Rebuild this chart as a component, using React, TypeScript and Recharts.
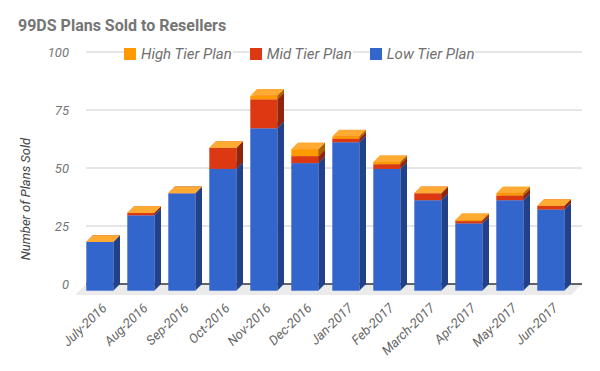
import React from 'react';
import { BarChart, Bar, XAxis, YAxis, CartesianGrid } from 'recharts';

const months = [
  'July-2016', 'Aug-2016', 'Sep-2016', 'Oct-2016', 'Nov-2016', 'Dec-2016',
  'Jan-2017', 'Feb-2017', 'March-2017', 'Apr-2017', 'May-2017', 'Jun-2017',
];
const lowTier = [21, 32.5, 42, 52.5, 70, 55, 64, 52.5, 39, 29, 39, 35];
const midTier = [0, 1, 0, 9, 12.5, 3, 1.5, 2, 3, 1, 2, 1.5];
const highTier = [0, 0, 0, 0, 1.5, 3, 1, 1, 0, 0.5, 1, 0];
const yTicks = [0, 25, 50, 75, 100];

const data = months.map((month, i) => ({
  month,
  low: lowTier[i],
  mid: midTier[i],
  high: highTier[i],
}));

const W = 600;
const H = 371;
const TOP = 52;
const BOTTOM = 284;
const XAXIS_H = 30;
const DEPTH = 6.7;
const FLOOR = 11;
const font = 'Roboto, sans-serif';

// series, drawn bottom to top; legend shows them reversed
const series = [
  { key: 'low', name: 'Low Tier Plan', front: '#3366cc', side: '#21428a', top: '#5c85d6' },
  { key: 'mid', name: 'Mid Tier Plan', front: '#dc3912', side: '#8f250c', top: '#e3613f' },
  { key: 'high', name: 'High Tier Plan', front: '#ff9900', side: '#a66300', top: '#ffab33' },
];

// fake 3d box: recharts gives the back plane, front face is pushed down-left
const makeBox = (front: string, side: string, top: string) => (props: any) => {
  const { x, y, width, height } = props;
  if (x == null || y == null) return null;
  const h = Math.max(height || 0, 0);
  const fx = x - DEPTH;
  const fy = y + DEPTH;
  return (
    <g>
      <polygon
        points={`${fx + width},${fy} ${x + width},${y} ${x + width},${y + h} ${fx + width},${fy + h}`}
        fill={side}
      />
      <polygon points={`${fx},${fy} ${fx + width},${fy} ${x + width},${y} ${x},${y}`} fill={top} />
      <rect x={fx} y={fy} width={width} height={h} fill={front} />
    </g>
  );
};

const gridLine = (p: any) => {
  const { x1, x2, y1, key } = p;
  const right = x2 + 4;
  if (Math.abs(y1 - BOTTOM) < 1) {
    return (
      <g key={key}>
        <polygon
          points={`${x1},${y1} ${right},${y1} ${right - FLOOR},${y1 + FLOOR} ${x1 - FLOOR},${y1 + FLOOR}`}
          fill="#ebebeb"
        />
        <line x1={x1} x2={right} y1={y1} y2={y1} stroke="#333" strokeWidth={1.5} />
      </g>
    );
  }
  return <line key={key} x1={x1} x2={right} y1={y1} y2={y1} stroke="#cccccc" strokeWidth={1} />;
};

const MonthTick = (props: any) => {
  const { x, payload } = props;
  const ax = x + 1;
  const ay = BOTTOM + 25;
  return (
    <text
      x={ax}
      y={ay}
      transform={`rotate(-44, ${ax}, ${ay})`}
      textAnchor="end"
      fontSize={13}
      fontStyle="italic"
      fill="#666"
      fontFamily={font}
    >
      {payload.value}
    </text>
  );
};

const YLabel = () => {
  const cx = 30;
  const cy = 199;
  return (
    <text
      x={cx}
      y={cy}
      transform={`rotate(-90, ${cx}, ${cy})`}
      textAnchor="middle"
      fontSize={13}
      fontStyle="italic"
      fill="#444"
      fontFamily={font}
    >
      Number of Plans Sold
    </text>
  );
};

export default function App() {
  return (
    <div style={{ position: 'absolute', left: 0, top: 0, width: W, height: H, background: '#fff', fontFamily: font }}>
      <div
        style={{
          position: 'absolute', left: 18, top: 16, fontSize: 16, fontWeight: 700,
          color: '#757575', lineHeight: 'normal', whiteSpace: 'nowrap',
        }}
      >
        99DS Plans Sold to Resellers
      </div>

      <BarChart
        width={W}
        height={H}
        data={data}
        margin={{ top: TOP, right: 22, bottom: H - BOTTOM - XAXIS_H, left: 0 }}
        barSize={27}
      >
        <CartesianGrid vertical={false} horizontal={gridLine} />
        <XAxis
          dataKey="month"
          axisLine={false}
          tickLine={false}
          interval={0}
          height={XAXIS_H}
          tick={<MonthTick />}
        />
        <YAxis
          width={86}
          domain={[0, 100]}
          ticks={yTicks}
          axisLine={false}
          tickLine={false}
          tickMargin={11}
          tick={{ fontSize: 13, fontStyle: 'italic', fill: '#757575', fontFamily: font }}
          label={<YLabel />}
        />
        {series.map((s) => (
          <Bar
            key={s.key}
            dataKey={s.key}
            name={s.name}
            stackId="plans"
            fill={s.front}
            shape={makeBox(s.front, s.side, s.top)}
            isAnimationActive={false}
          />
        ))}
      </BarChart>

      <div style={{ position: 'absolute', left: 124, top: 48, display: 'flex', height: 12 }}>
        {[...series].reverse().map((s, i) => (
          <div
            key={s.key}
            style={{
              display: 'flex', alignItems: 'center', background: '#fff',
              marginLeft: i === 0 ? 0 : 17, paddingRight: 1, height: 12,
            }}
          >
            <span style={{ width: 12, height: 12, background: s.front, display: 'inline-block' }} />
            <span
              style={{
                marginLeft: 5, fontSize: 15, fontStyle: 'italic', color: '#707070',
                lineHeight: 'normal', whiteSpace: 'nowrap',
              }}
            >
              {s.name}
            </span>
          </div>
        ))}
      </div>
    </div>
  );
}
